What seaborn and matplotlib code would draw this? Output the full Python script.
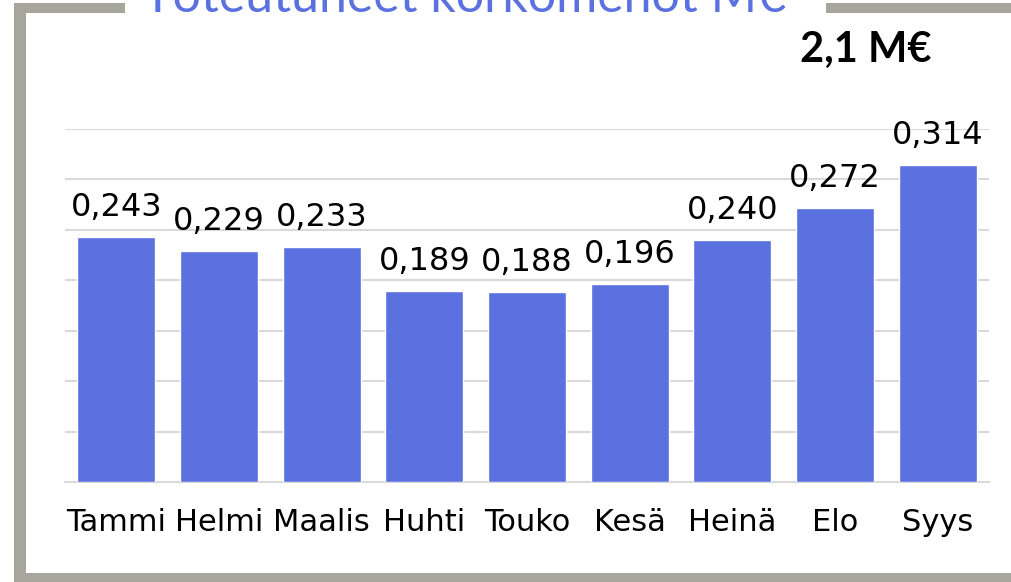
import matplotlib
matplotlib.use("Agg")
import matplotlib.pyplot as plt
import seaborn as sns
import pandas as pd
from matplotlib.patches import Rectangle

months = ["Tammi", "Helmi", "Maalis", "Huhti", "Touko", "Kesä", "Heinä", "Elo", "Syys"]
values = [0.243, 0.229, 0.233, 0.189, 0.188, 0.196, 0.240, 0.272, 0.314]
title_text = "Toteutuneet korkomenot M€"
total_text = "2,1 M€"

BAR = "#5A71DF"
FRAME = "#A6A69C"
GRID = "#D9D9D9"

sns.set_theme(style="white")
plt.rcParams["font.family"] = ["DejaVu Sans"]

W, H = 1012, 582
fig = plt.figure(figsize=(W / 100, H / 100), dpi=100)
fig.patch.set_facecolor("white")

def px_rect(x0, y0, x1, y1):
    return Rectangle((x0 / W, 1 - y1 / H), (x1 - x0) / W, (y1 - y0) / H,
                     transform=fig.transFigure, facecolor=FRAME, edgecolor="none", zorder=0)

for r in [px_rect(14, 3, 26, 582), px_rect(14, 3, 125, 13), px_rect(826, 3, 1012, 13),
          px_rect(14, 573, 1012, 582)]:
    fig.patches.append(r)

ax = fig.add_axes([65 / W, 1 - 482 / H, (989 - 65) / W, (482 - 129) / H])
df = pd.DataFrame({"month": months, "value": values})
sns.barplot(data=df, x="month", y="value", color=BAR, saturation=1, width=0.76, ax=ax, zorder=3)

ax.set_xlim(-0.5, len(months) - 0.5)
ax.set_ylim(0, 0.35)
ax.set_yticks([0.05 * i for i in range(1, 8)])
ax.yaxis.grid(True, color=GRID, linewidth=1.5)
ax.set_axisbelow(True)
ax.tick_params(axis="y", left=False, labelleft=False)
for s in ["top", "right", "left"]:
    ax.spines[s].set_visible(False)
ax.spines["bottom"].set_color(GRID)
ax.spines["bottom"].set_linewidth(1.5)
ax.set_xlabel("")
ax.set_ylabel("")

ax.set_xticks(range(len(months)))
ax.set_xticklabels(months, fontsize=22, color="black")
ax.set_xticks([i - 0.5 for i in range(len(months) + 1)], minor=True)
ax.tick_params(axis="x", which="major", length=0, pad=19)
ax.tick_params(axis="x", which="minor", length=7.2, width=1.5, color=GRID, direction="out")

labels = [f"{v:.3f}".replace(".", ",") for v in values]
ax.bar_label(ax.containers[0], labels=labels, fontsize=23, padding=10, color="black")

fig.text(465 / W, 1 - 12 / H, title_text, color=BAR, fontsize=36, family="Lato",
         ha="center", va="baseline")
fig.text(866 / W, 1 - 62 / H, total_text, color="black", fontsize=30, family="Lato",
         fontweight="bold", ha="center", va="baseline")

fig.savefig("out.png", dpi=100)
